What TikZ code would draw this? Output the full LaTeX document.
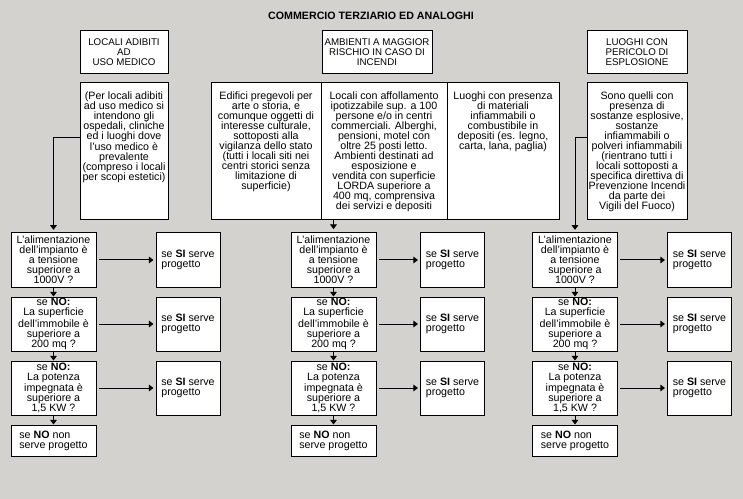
\documentclass[tikz,border=0pt]{standalone}
\usepackage{fontspec}
\setmainfont{Liberation Sans}
\usepackage{xcolor}
\usetikzlibrary{positioning,arrows.meta}
\definecolor{winbg}{RGB}{212,210,206}

\tikzset{
  frame/.style={draw,shape=rectangle,fill=white,line width=0.75pt,inner sep=0pt},
  txt/.style={align=center,inner sep=0pt,font=\fontsize{8}{7.5}\selectfont},
  head/.style={frame,align=center,minimum height=32.25pt,font=\fontsize{7.3}{7.5}\selectfont},
  qbox/.style={frame,align=center,minimum width=63.75pt,minimum height=40.5pt,font=\fontsize{8}{7.5}\selectfont},
  sibox/.style={frame,align=left,minimum width=48pt,minimum height=40.5pt,font=\fontsize{8}{7.5}\selectfont},
  nobox/.style={frame,align=left,minimum width=63.75pt,minimum height=23.25pt,font=\fontsize{8}{7.5}\selectfont},
  arr/.style={-{Triangle[length=3.5pt,width=5pt]},line width=0.75pt}
}

\begin{document}
\begin{tikzpicture}[x=0.75pt,y=-0.75pt]
\fill[winbg] (0,0) rectangle (743,499);
\useasboundingbox (0,0) rectangle (743,499);

      \draw node (title) at (371,16) [font=\fontsize{8}{9}\selectfont\bfseries]{COMMERCIO TERZIARIO ED ANALOGHI};

% headings
\draw node (hA) at (124,52.5) [head,minimum width=66pt]{LOCALI ADIBITI\\AD\\USO MEDICO};
\draw node (hB) at (377,52.5) [head,minimum width=82.5pt]{AMBIENTI A MAGGIOR\\RISCHIO IN CASO DI\\INCENDI};
\draw node (hC) at (637,52.5) [head,minimum width=75pt]{LUOGHI CON\\PERICOLO DI\\ESPLOSIONE};

% descriptions
\draw node (descA) at (124,151.5) [frame,minimum width=66pt,minimum height=102.75pt]{};
\draw node (cellA) at (266,151.5) [frame,minimum width=82.5pt,minimum height=102.75pt]{};
\draw node (cellB) at (384,151.5) [frame,minimum width=94.5pt,minimum height=102.75pt]{};
\draw node (cellC) at (503,151.5) [frame,minimum width=84pt,minimum height=102.75pt]{};
\draw node (descC) at (637,151.5) [frame,minimum width=75pt,minimum height=102.75pt]{};

\node (descAtxt) [txt,anchor=north,below=6.5pt of descA.north]{(Per locali adibiti\\ad uso medico si\\intendono gli\\ospedali, cliniche\\ed i luoghi dove\\l'uso medico è\\prevalente\\(compreso i locali\\per scopi estetici)};
\node (cellAtxt) [txt,anchor=north,below=6.5pt of cellA.north]{Edifici pregevoli per\\arte o storia, e\\comunque oggetti di\\interesse culturale,\\sottoposti alla\\vigilanza dello stato\\(tutti i locali siti nei\\centri storici senza\\limitazione di\\superficie)};
\node (cellBtxt) [txt,anchor=north,below=6.5pt of cellB.north]{Locali con affollamento\\ipotizzabile sup. a 100\\persone e/o in centri\\commerciali. Alberghi,\\pensioni, motel con\\oltre 25 posti letto.\\Ambienti destinati ad\\esposizione e\\vendita con superficie\\LORDA superiore a\\400 mq, comprensiva\\dei servizi e depositi};
\node (cellCtxt) [txt,anchor=north,below=6.5pt of cellC.north]{Luoghi con presenza\\di materiali\\infiammabili o\\combustibile in\\depositi (es. legno,\\carta, lana, paglia)};
\node (descCtxt) [txt,anchor=north,below=6.5pt of descC.north]{Sono quelli con\\presenza di\\sostanze esplosive,\\sostanze\\infiammabili o\\polveri infiammabili\\(rientrano tutti i\\locali sottoposti a\\specifica direttiva di\\Prevenzione Incendi\\da parte dei\\Vigili del Fuoco)};

% three identical check columns
\foreach \c/\qx/\sx in {a/53.5/188,b/333.5/452.5,c/575/699.5}{
\draw node (q1\c) at (\qx,260) [qbox]{L'alimentazione\\dell'impianto è\\a tensione\\superiore a\\1000V ?};
\draw node (q2\c) at (\qx,324) [qbox]{se \textbf{NO:}\\La superficie\\dell'immobile è\\superiore a\\200 mq ?};
\draw node (q3\c) at (\qx,388) [qbox]{se \textbf{NO:}\\La potenza\\impegnata è\\superiore a\\1,5 KW ?};
\draw node (no\c) at (\qx,440.5) [nobox]{se \textbf{NO} non\\serve progetto};
\draw node foreach \r in {1,2,3} (s\r\c) at (\sx,196+64*\r) [sibox]{se \textbf{SI} serve\\progetto};
\draw[arr] (q1\c) -- (q2\c);
\draw[arr] (q2\c) -- (q3\c);
\draw[arr] (q3\c) -- (no\c);
\draw[arr,shorten <=1.5pt,shorten >=1.5pt] (q1\c) -- (s1\c);
\draw[arr,shorten <=1.5pt,shorten >=1.5pt] (q2\c) -- (s2\c);
\draw[arr,shorten <=1.5pt,shorten >=1.5pt] (q3\c) -- (s3\c);
}

\draw[arr,shorten >=2pt] ([yshift=10.125pt]descA.west) -| (q1a.north);
\draw[arr,shorten >=2.5pt] (cellB.south -| q1b.north) -- (q1b.north);
\draw[arr,shorten >=2pt] ([yshift=10.125pt]descC.west) -| (q1c.north);
\end{tikzpicture}
\end{document}
